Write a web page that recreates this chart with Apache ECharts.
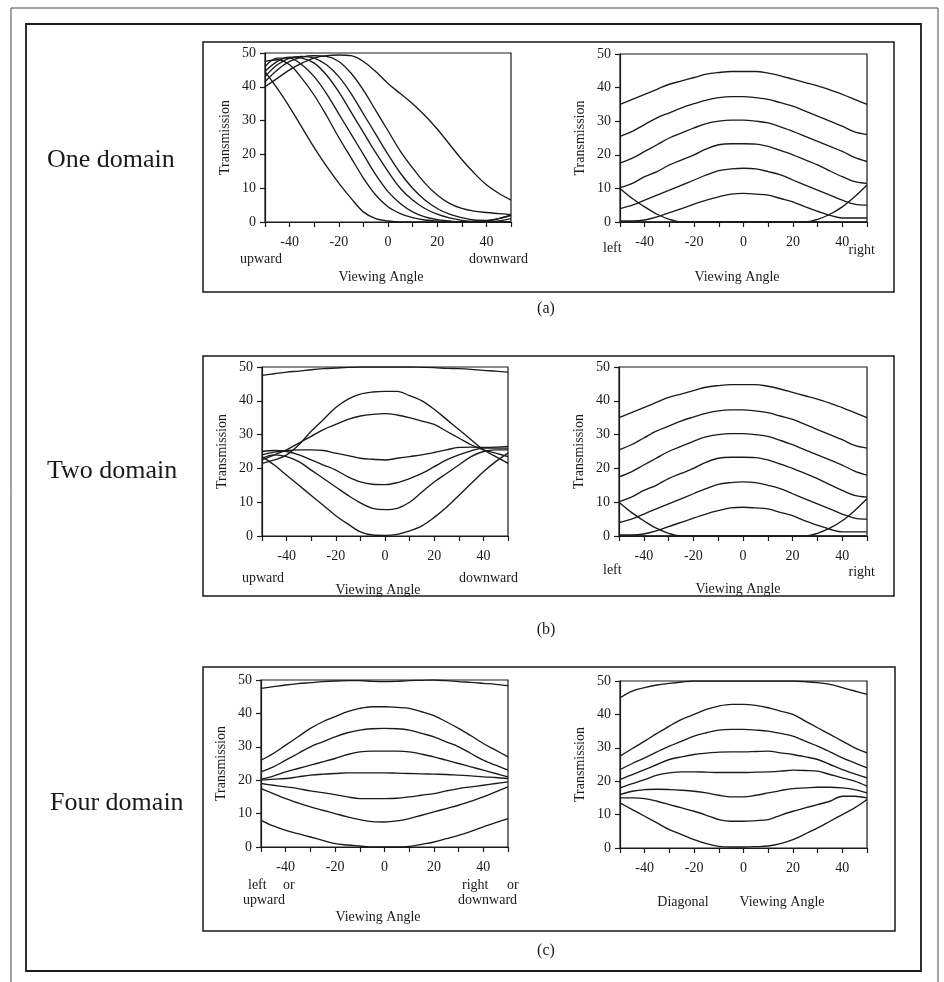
<!DOCTYPE html>
<html><head><meta charset="utf-8">
<script src="https://cdn.jsdelivr.net/npm/echarts@6/dist/echarts.min.js"></script>
<style>html,body{margin:0;padding:0;background:#fff}#c{width:944px;height:982px}</style>
</head><body><div id="c"></div>
<script>
// ---------- data ----------
const angles = [-50,-45,-40,-35,-30,-25,-20,-15,-10,-5,0,5,10,15,20,25,30,35,40,45,50];
const xTickLabels = ['-40','-20','0','20','40'];
const yTickLabels = ['0','10','20','30','40','50'];

// (a) One domain, up/down viewing
const oneUD1 = [44.5,39.5,34,28,22,16.5,11.5,7,3,1,0.3,0,0,0,0,0,0,0,0,0,0];
const oneUD2 = [47.5,48,46.5,42.5,37.5,31.5,25,19,13,8,4.5,2.5,1.3,0.6,0.3,0,0,0,0,0,0];
const oneUD3 = [46,48.5,48.5,46.5,43,38,32,26,20,14,9,5.5,3,1.5,0.7,0.3,0,0,0,0.3,1];
const oneUD4 = [44.5,47.5,48.8,48.5,47,43.5,38.5,32.5,26.5,20.5,15,10,6.5,4,2.3,1.2,0.5,0.2,0.3,1,2];
const oneUD5 = [43,46.5,48.5,49,48.5,46.5,43,38,32,26,20,14.5,10,6.5,4,2.3,1.3,0.6,0.5,1,2];
const oneUD6 = [41.5,45,47.5,48.8,49.2,49,47.5,44,39,33,27,21,16,11.5,8,5.5,4,3.2,2.8,2.5,2.2];
const oneUD7 = [40,42.5,45,47,48.5,49.2,49.4,49.2,47.5,44.5,41,38,35,31.5,27.5,23,18.5,14.5,11,8.5,6.5];

// left/right viewing (same in (a) and (b))
const lr1 = [35,36.5,38,39.5,41,42,43,44,44.5,44.8,44.8,44.8,44.3,43.5,42.5,41.5,40.5,39.3,38,36.5,35];
const lr2 = [25.5,27,29,31,32.5,34,35.2,36.3,37,37.3,37.3,37,36.5,35.5,34.5,33,31.5,30,28.5,26.8,26];
const lr3 = [17.5,19,21,23,25,26.5,28,29.3,30,30.3,30.3,30,29.5,28.3,27,25.5,24,22.5,21,19.2,18];
const lr4 = [10.2,11.5,13.5,15,17,18.5,20,21.8,23,23.3,23.3,23.2,22.5,21.3,20,18.5,17,15.2,13.5,12,11.5];
const lr5 = [4,5,6.5,8,9.5,11,12.5,14,15.3,15.8,16,15.8,15,14,12.5,11,9.5,8,6.5,5.3,5];
const lr6 = [0.3,0.3,0.6,1.5,2.8,4,5.3,6.5,7.5,8.3,8.5,8.3,8,7,6,4.5,3.2,2,1.2,1.2,1.2];
const lr7 = [10,7,4.5,2.3,0.8,0,0,0,0,0,0,0,0,0,0,0,0,0,0,0,0];
const lr8 = [0,0,0,0,0,0,0,0,0,0,0,0,0,0,0,0,0.8,2.3,4.5,7.5,11];

// (b) Two domain, up/down viewing
const twoUD1 = [47.5,48,48.5,48.8,49.2,49.5,49.7,49.9,50,50,50,50,50,49.9,49.8,49.6,49.5,49.3,49,48.8,48.5];
const twoUD2 = [21.5,22.5,24,27,31,34.5,38,40.5,42,42.6,42.8,42.8,41.5,40,37.5,34.5,31.5,28.5,25.5,23.5,21.5];
const twoUD3 = [22.5,24,25.5,27.5,29.5,31.5,33,34.5,35.5,36,36.2,35.8,35,34,33,31,29,27,25.5,24.5,23.5];
const twoUD4 = [24,24.8,25.3,25.5,25.5,25.3,24.5,23.8,23,22.7,22.5,23,23.5,24,24.7,25.5,26.2,26.3,26.2,26.3,26.5];
const twoUD5 = [25,25.3,25,24,22.5,21,19.5,17.5,16,15.3,15.2,15.8,17,18.5,20.5,22.5,24,25.2,26,26,26];
const twoUD6 = [23,24,23.5,22,19.5,17,14.5,12,9.8,8.2,7.8,8.2,10,13,16,18.5,21,23.5,25,25.5,25.5];
const twoUD7 = [23.5,21,18,15,12,9,6,3.5,1.2,0.3,0.2,0.5,1.5,3,5.5,8.5,12,15.5,19,22,24.5];

// (c) Four domain, left/right or up/down viewing
const fourLR1 = [47.5,48,48.5,48.9,49.2,49.5,49.7,49.8,49.8,49.6,49.5,49.6,49.8,49.9,50,49.8,49.5,49.3,49,48.7,48.3];
const fourLR2 = [26,28,30.5,33,35.5,37.5,39,40.5,41.5,42,42,41.8,41.5,40.5,39.3,37.5,35.5,33.3,31,29,27];
const fourLR3 = [22.5,24,26,28,30,31.5,33,34.2,35,35.4,35.5,35.4,35,34,33,31.5,30,28,26,24.5,23];
const fourLR4 = [20.3,21.2,22.5,23.5,24.5,25.5,26.5,27.7,28.5,28.7,28.7,28.7,28.5,27.8,27,26,25,24,23,22,21];
const fourLR5 = [20,20.3,20.5,21,21.5,21.8,22,22.2,22.2,22.2,22.2,22.1,22,21.9,21.8,21.7,21.5,21.3,21,20.8,20.5];
const fourLR6 = [19,18.5,18,17.5,16.8,16.3,15.7,15,14.5,14.5,14.5,14.6,15,15.5,16,16.8,17.5,18,18.5,19,19.5];
const fourLR7 = [17.5,16,14.5,13.2,12,11,10,9,8.2,7.6,7.5,7.8,8.5,9.5,10.5,11.5,12.5,13.7,15,16.5,18];
const fourLR8 = [8,6.3,5,4,3,2,1,0.6,0.3,0,0,0,0.2,0.8,1.5,2.5,3.5,4.7,6,7.3,8.5];

// (c) Four domain, diagonal viewing
const fourDg1 = [45,47,48,48.8,49.3,49.7,50,50,50,50,50,50,50,50,50,49.8,49.5,49,48,47,46];
const fourDg2 = [27.5,29.8,32,34.3,36.5,38.5,40,41.5,42.5,43,43,42.7,42,41,40,38,36,34,32,30,28.5];
const fourDg3 = [23.5,25.3,27,28.8,30.5,32,33.5,34.5,35.3,35.5,35.5,35.3,35,34.3,33.5,32,30.5,28.8,27,25.5,24];
const fourDg4 = [20.5,22,23.5,25,26.5,27.3,28,28.4,28.7,28.8,28.8,28.9,29,28.5,28,27.3,26.5,25,23.5,22.2,21];
const fourDg5 = [18,19.3,20.5,21.8,22.5,22.8,22.8,22.7,22.6,22.6,22.6,22.7,22.8,23,23.3,23.2,23,22,21,20,18.5];
const fourDg6 = [16,17,17.5,17.6,17.5,17.3,17,16.5,15.8,15.3,15.3,15.8,16.5,17.2,17.8,18,18.2,18.2,18,17.5,16.5];
const fourDg7 = [15,15,14.8,14,13,12,11,9.8,8.5,8,8,8.2,8.5,9.8,11,12,13,14,15.5,15.5,15];
const fourDg8 = [13.5,11.5,9.5,7.5,5.5,4,2.5,1.3,0.5,0.3,0.3,0.4,0.6,1.3,2.5,4.2,6,8,10,12,14.5];

// ---------- chart ----------
const FONT = '"Liberation Serif", "Times New Roman", serif';
const INK = '#1a1a1a';
const panels = [
  {grid:{left:265, top:53, width:246, height:169}, curves:[oneUD1,oneUD2,oneUD3,oneUD4,oneUD5,oneUD6,oneUD7]},
  {grid:{left:620, top:54, width:247, height:168}, curves:[lr1,lr2,lr3,lr4,lr5,lr6,lr7,lr8]},
  {grid:{left:262, top:367, width:246, height:169}, curves:[twoUD1,twoUD2,twoUD3,twoUD4,twoUD5,twoUD6,twoUD7]},
  {grid:{left:619, top:367, width:248, height:169}, curves:[lr1,lr2,lr3,lr4,lr5,lr6,lr7,lr8]},
  {grid:{left:261, top:680, width:247, height:167}, curves:[fourLR1,fourLR2,fourLR3,fourLR4,fourLR5,fourLR6,fourLR7,fourLR8]},
  {grid:{left:620, top:681, width:247, height:167}, curves:[fourDg1,fourDg2,fourDg3,fourDg4,fourDg5,fourDg6,fourDg7,fourDg8]}
];

const grid = [], xAxis = [], yAxis = [], series = [];
panels.forEach((p, i) => {
  grid.push(Object.assign({show:true, borderColor:INK, borderWidth:1.2, backgroundColor:'transparent', containLabel:false, outerBoundsMode:'none'}, p.grid));
  xAxis.push({
    type:'value', gridIndex:i, min:-50, max:50, interval:10,
    axisLine:{show:true, onZero:false, lineStyle:{color:INK, width:1.2}},
    axisTick:{show:true, inside:false, length:5, lineStyle:{color:INK, width:1.2}},
    splitLine:{show:false},
    axisLabel:{show:true, margin:13, fontFamily:FONT, fontSize:14, color:INK, showMinLabel:true, showMaxLabel:true,
      formatter: v => xTickLabels.includes(String(v)) ? String(v) : ''}
  });
  yAxis.push({
    type:'value', gridIndex:i, min:0, max:50, interval:10,
    name:'Transmission', nameLocation:'middle', nameGap:33,
    nameTextStyle:{fontFamily:FONT, fontSize:14, color:INK},
    axisLine:{show:true, onZero:false, lineStyle:{color:INK, width:1.2}},
    axisTick:{show:true, inside:false, length:5, lineStyle:{color:INK, width:1.2}},
    splitLine:{show:false},
    axisLabel:{show:true, margin:9, fontFamily:FONT, fontSize:14, color:INK, showMinLabel:true, showMaxLabel:true,
      formatter: v => yTickLabels.includes(String(v)) ? String(v) : ''}
  });
  p.curves.forEach(c => {
    series.push({
      type:'line', xAxisIndex:i, yAxisIndex:i, smooth:0.35, showSymbol:false, symbol:'none',
      lineStyle:{color:INK, width:1.35}, silent:true, animation:false,
      data: angles.map((a, k) => [a, c[k]])
    });
  });
});

function txt(x, y, s, opts) {
  return Object.assign({type:'text', x:x, y:y, silent:true,
    style:Object.assign({text:s, fill:INK, font:'14px ' + FONT, textAlign:'left', textVerticalAlign:'middle'}, opts || {})});
}
function box(x, y, w, h, lw, col) {
  return {type:'rect', shape:{x:x, y:y, width:w, height:h}, silent:true,
    style:{fill:'none', stroke:col || INK, lineWidth:lw}};
}

const graphic = [
  box(11, 8, 927, 990, 1, '#444'),
  box(26, 24, 895, 947, 1.8),
  box(203, 42, 691, 250, 1.5),
  box(203, 356, 691, 240, 1.5),
  box(203, 667, 692, 264, 1.5),
  txt(47, 160, 'One domain', {font:'26px ' + FONT}),
  txt(47, 471, 'Two domain', {font:'26px ' + FONT}),
  txt(50, 803, 'Four domain', {font:'26px ' + FONT}),
  txt(546, 309, '(a)', {font:'16px ' + FONT, textAlign:'center'}),
  txt(546, 630, '(b)', {font:'16px ' + FONT, textAlign:'center'}),
  txt(546, 951, '(c)', {font:'16px ' + FONT, textAlign:'center'}),
  // (a)
  txt(240, 259, 'upward'),
  txt(528, 259, 'downward', {textAlign:'right'}),
  txt(381, 277, 'Viewing Angle', {textAlign:'center'}),
  txt(603, 248, 'left'),
  txt(875, 250, 'right', {textAlign:'right'}),
  txt(737, 277, 'Viewing Angle', {textAlign:'center'}),
  // (b)
  txt(242, 578, 'upward'),
  txt(518, 578, 'downward', {textAlign:'right'}),
  txt(378, 590, 'Viewing Angle', {textAlign:'center'}),
  txt(603, 570, 'left'),
  txt(875, 572, 'right', {textAlign:'right'}),
  txt(738, 589, 'Viewing Angle', {textAlign:'center'}),
  // (c)
  txt(248, 885, 'left'),
  txt(283, 885, 'or'),
  txt(243, 900, 'upward'),
  txt(462, 885, 'right'),
  txt(507, 885, 'or'),
  txt(458, 900, 'downward'),
  txt(378, 917, 'Viewing Angle', {textAlign:'center'}),
  txt(683, 902, 'Diagonal', {textAlign:'center'}),
  txt(782, 902, 'Viewing Angle', {textAlign:'center'})
];

const chart = echarts.init(document.getElementById('c'), null, {renderer:'canvas'});
chart.setOption({
  backgroundColor:'#ffffff',
  animation:false,
  grid, xAxis, yAxis, series, graphic
});
</script>
</body></html>
